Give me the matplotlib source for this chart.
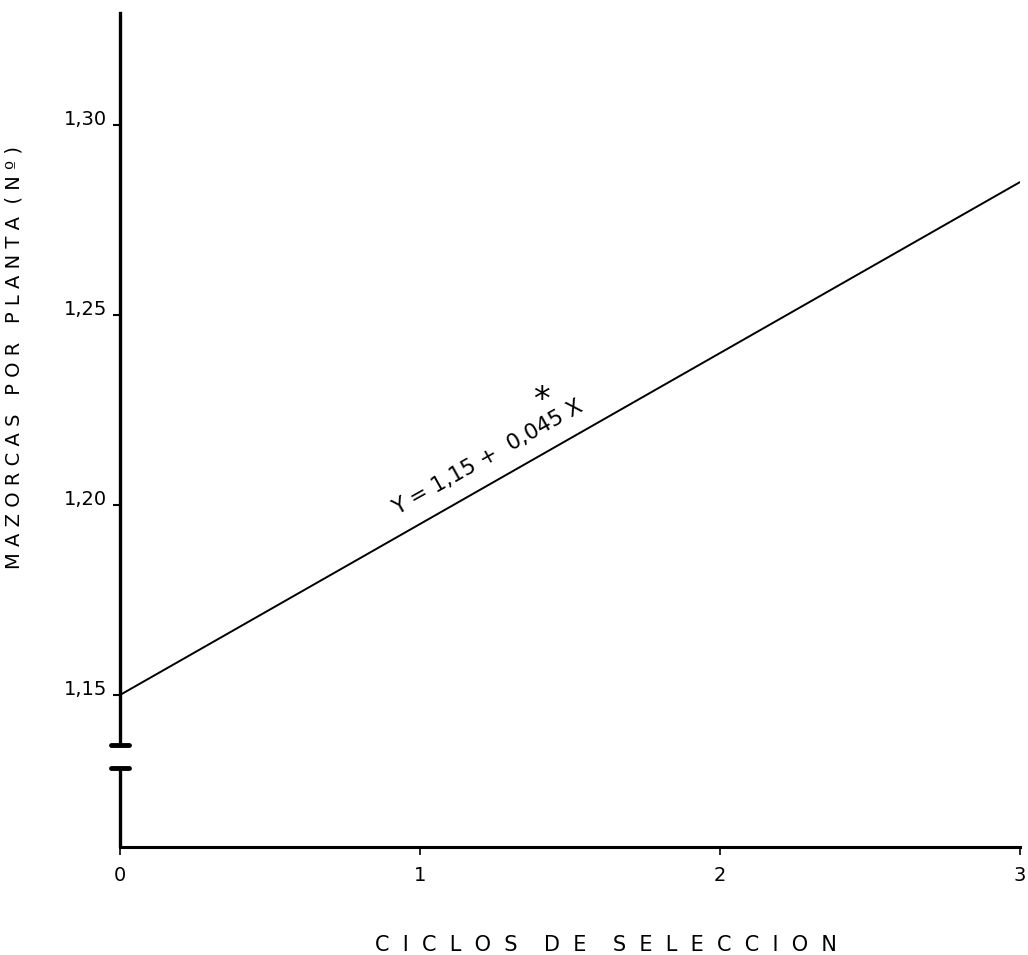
import numpy as np
import matplotlib
matplotlib.use("Agg")
from matplotlib import pyplot as plt
from matplotlib import transforms

# datos de la recta de regresion
ciclos = [0, 3]
intercepto = 1.15
pendiente = 0.045
x_ticks = [0, 1, 2, 3]
x_labels = ["0", "1", "2", "3"]
y_ticks = [1.15, 1.20, 1.25, 1.30]
y_labels = ["1,15", "1,20", "1,25", "1,30"]
y_min, y_max = 1.110, 1.3295
corte_bajo, corte_alto = 1.1308, 1.1368   # corte del eje Y

plt.rcParams['font.family'] = ['DejaVu Sans']

fig = plt.figure(figsize=(10.28, 9.55), dpi=100)
ax = fig.add_axes([0.1167, 0.1131, 0.8755, 0.8733])

x = np.asarray(ciclos, dtype=float)
y = intercepto + pendiente * x
ax.plot(x, y, color='black', lw=1.4, solid_capstyle='round')

ax.set_xlim(0, 3)
ax.set_ylim(y_min, y_max)

for s in ['top', 'right']:
    ax.spines[s].set_visible(False)
ax.spines['left'].set_linewidth(2.4)
ax.spines['left'].set_bounds(corte_alto, y_max)
ax.spines['bottom'].set_linewidth(2.2)

# tramo inferior del eje Y y marcas del corte
ax.plot([0, 0], [y_min, corte_bajo], color='black', lw=2.4, clip_on=False,
        solid_capstyle='butt')
ax.plot([-0.03, 0.03], [corte_alto, corte_alto], color='black', lw=3.5,
        clip_on=False, solid_capstyle='round')
ax.plot([-0.03, 0.03], [corte_bajo, corte_bajo], color='black', lw=3.5,
        clip_on=False, solid_capstyle='round')

ax.set_xticks(x_ticks)
ax.set_xticklabels(x_labels, fontsize=14)
ax.tick_params(axis='x', direction='out', length=6, width=1.2, pad=8)

ax.set_yticks(y_ticks)
ax.set_yticklabels(y_labels, fontsize=14)
ax.tick_params(axis='y', direction='out', length=5, width=1.5, pad=4)
desplaza = transforms.ScaledTranslation(0, 8 / 100, fig.dpi_scale_trans)
for lab in ax.get_yticklabels():
    lab.set_transform(lab.get_transform() + desplaza)

ax.set_xlabel("C  I  C  L  O  S    D  E    S  E  L  E  C  C  I  O  N",
              fontsize=15)
ax.xaxis.set_label_coords(0.54, -0.105)
ax.set_ylabel("M A Z O R C A S   P O R   P L A N T A  ( N º )", fontsize=14)
ax.yaxis.set_label_coords(-0.107, 0.5875)

# ecuacion sobre la recta
ang = np.degrees(np.arctan2(506, 903))
ax.text(1.227, 1.2125, "Y = 1,15 +  0,045 X", fontsize=15.5, rotation=ang,
        rotation_mode='anchor', ha='center', va='center')
ax.text(1.405, 1.2275, "*", fontsize=24, ha='center', va='center')

plt.savefig("out.png", dpi=100)
